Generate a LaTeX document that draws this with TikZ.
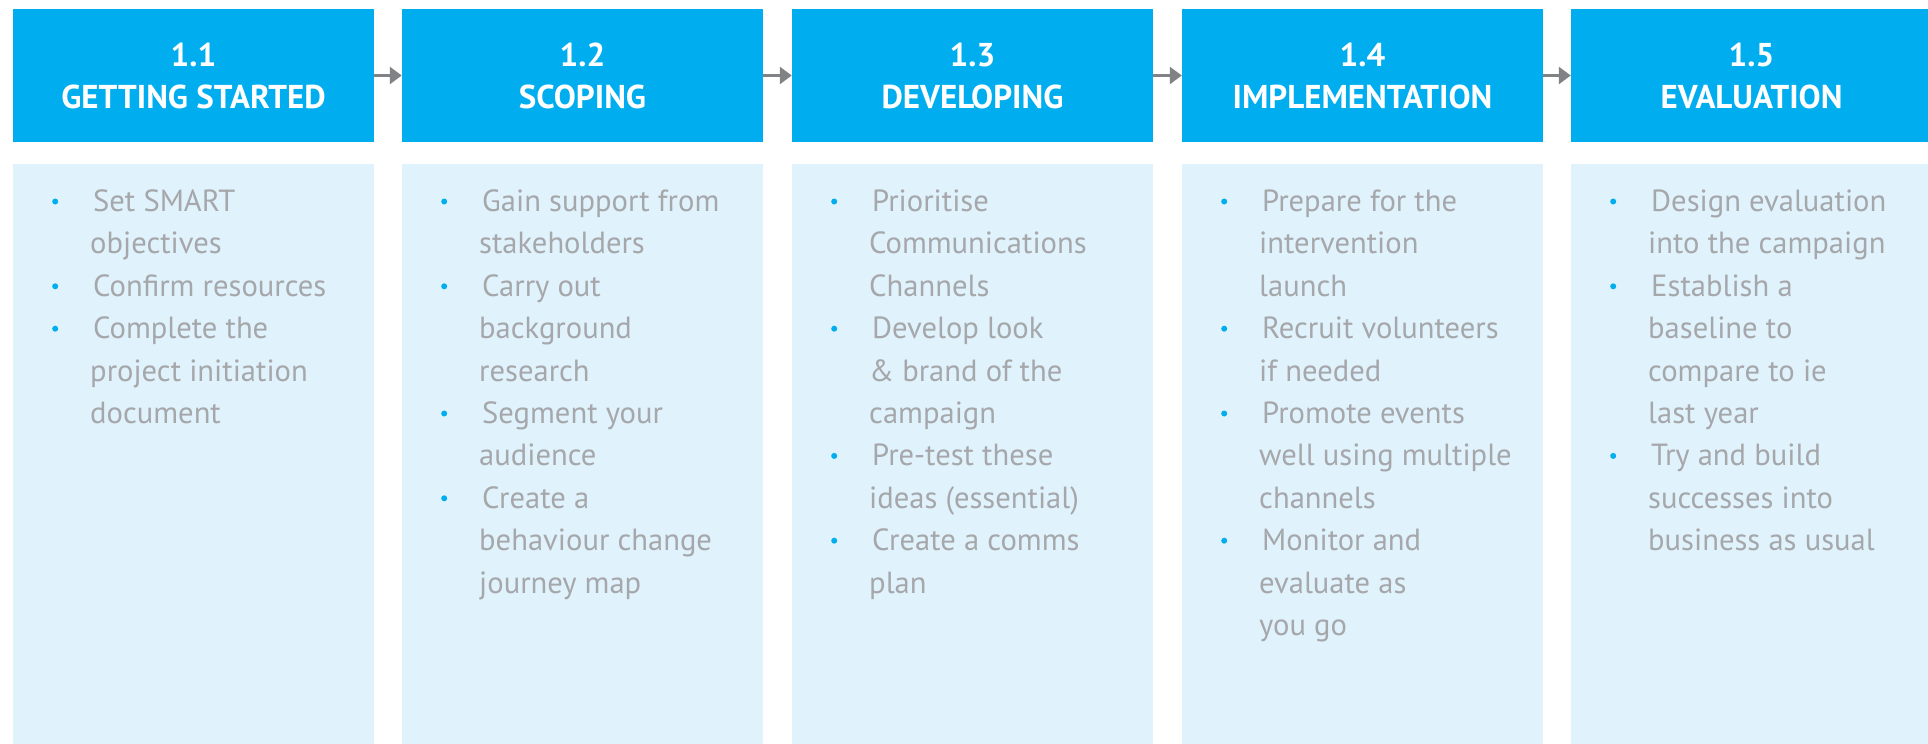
\documentclass[tikz,border=0pt]{standalone}
\usepackage{fontspec}
\setmainfont{PT Sans}
\usetikzlibrary{arrows.meta}

\definecolor{headblue}{HTML}{00AEEF}
\definecolor{paleblue}{HTML}{E0F2FC}
\definecolor{textgray}{HTML}{A5A7AA}
\definecolor{arrowgray}{HTML}{808285}

% small blue list bullet, centred on the x-height
\newcommand\bdot{\tikz[baseline=0pt]\fill[headblue] (0pt,10pt) circle[radius=3pt];}
% first line of a list item (bullet + text) and its continuation lines
\newcommand\itm[1]{\hbox{\hspace*{42pt}\makebox[0pt]{\bdot}\hspace*{38pt}#1}}
\newcommand\cnt[1]{\hbox{\hspace*{77pt}#1}}
\newcommand\bodytext[1]{\vtop{\baselineskip=42.4pt\lineskiplimit=-100pt\lineskip=0pt #1}}

\tikzset{
  headbox/.style={fill=headblue, minimum width=361pt, minimum height=133pt,
    inner sep=0pt, align=center, text=white,
    font=\bfseries\fontsize{33}{42}\selectfont},
  bodybox/.style={fill=paleblue, minimum width=361pt, minimum height=580pt,
    inner sep=0pt},
  bodytxt/.style={anchor=base west, inner sep=0pt, text=textgray,
    font=\fontsize{30.6}{42.4}\selectfont},
  flow/.style={draw=arrowgray, line width=2.5pt,
    -{Triangle[length=12pt,width=17pt]}, shorten <=0pt, shorten >=0pt},
}

\begin{document}
\begin{tikzpicture}[x=1pt,y=-1pt]
\useasboundingbox (0,0) rectangle (1928,744);

% stage headers
\node[headbox] (h1) at (193.5,75.5)  {1.1\\GETTING STARTED};
\node[headbox] (h2) at (582.5,75.5)  {1.2\\SCOPING};
\node[headbox] (h3) at (972.5,75.5)  {1.3\\DEVELOPING};
\node[headbox] (h4) at (1362.5,75.5) {1.4\\IMPLEMENTATION};
\node[headbox] (h5) at (1751.5,75.5) {1.5\\EVALUATION};

% stage bodies
\node[bodybox] (b1) at (193.5,454)  {};
\node[bodybox] (b2) at (582.5,454)  {};
\node[bodybox] (b3) at (972.5,454)  {};
\node[bodybox] (b4) at (1362.5,454) {};
\node[bodybox] (b5) at (1751.5,454) {};

% flow between stages
\draw[flow] (h1.east) -- (h2.west);
\draw[flow] (h2.east) -- (h3.west);
\draw[flow] (h3.east) -- (h4.west);
\draw[flow] (h4.east) -- (h5.west);

% task lists
\node[bodytxt] (t1) at (13,211.5) {\bodytext{%
  \itm{Set SMART}\cnt{objectives}%
  \itm{Confirm resources}%
  \itm{Complete the}\cnt{project initiation}\cnt{document}}};

\node[bodytxt] (t2) at (402,211.5) {\bodytext{%
  \itm{Gain support from}\cnt{stakeholders}%
  \itm{Carry out}\cnt{background}\cnt{research}%
  \itm{Segment your}\cnt{audience}%
  \itm{Create a}\cnt{behaviour change}\cnt{journey map}}};

\node[bodytxt] (t3) at (792,211.5) {\bodytext{%
  \itm{Prioritise}\cnt{Communications}\cnt{Channels}%
  \itm{Develop look}\cnt{\& brand of the}\cnt{campaign}%
  \itm{Pre-test these}\cnt{ideas (essential)}%
  \itm{Create a comms}\cnt{plan}}};

\node[bodytxt] (t4) at (1182,211.5) {\bodytext{%
  \itm{Prepare for the}\cnt{intervention}\cnt{launch}%
  \itm{Recruit volunteers}\cnt{if needed}%
  \itm{Promote events}\cnt{well using multiple}\cnt{channels}%
  \itm{Monitor and}\cnt{evaluate as}\cnt{you go}}};

\node[bodytxt] (t5) at (1571,211.5) {\bodytext{%
  \itm{Design evaluation}\cnt{into the campaign}%
  \itm{Establish a}\cnt{baseline to}\cnt{compare to ie}\cnt{last year}%
  \itm{Try and build}\cnt{successes into}\cnt{business as usual}}};
\end{tikzpicture}
\end{document}
